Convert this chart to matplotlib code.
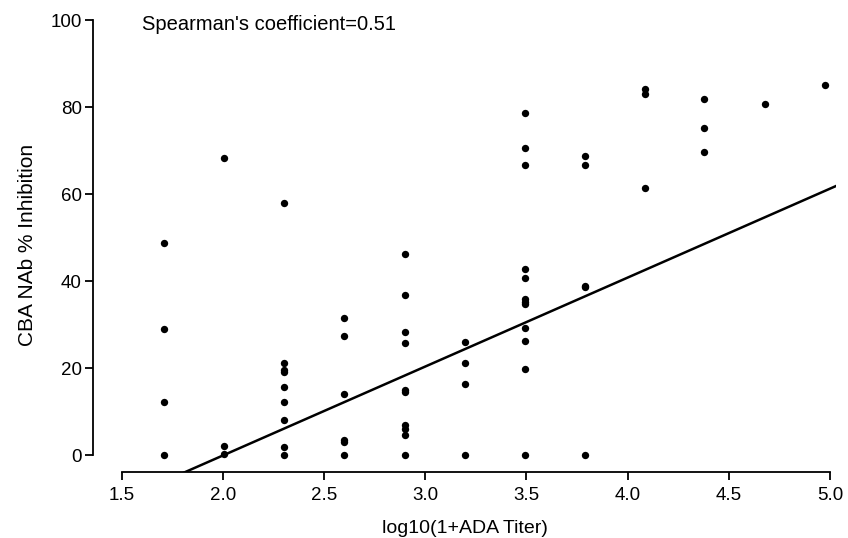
import numpy as np
import matplotlib.pyplot as plt

plt.rcParams['font.family'] = ['Liberation Sans', 'DejaVu Sans']

# log10(1+titer) levels and the % inhibition values read at each level
titer_levels = [1.708, 2.003, 2.302, 2.599, 2.898, 3.194, 3.493, 3.79, 4.085, 4.38, 4.68, 4.976]
inhibition = [
    [48.7, 28.9, 12.3, 0.0],
    [68.2, 2.1, 0.2],
    [57.9, 21.2, 19.5, 19.0, 15.7, 12.3, 8.0, 1.9, 0.0],
    [31.6, 27.4, 14.0, 3.4, 2.9, 0.0],
    [46.2, 36.7, 28.3, 25.7, 14.9, 14.6, 6.8, 6.0, 4.6, 0.0],
    [26.0, 21.1, 16.4, 0.0],
    [78.7, 70.6, 66.6, 42.8, 40.8, 35.8, 35.2, 34.8, 29.3, 26.2, 19.8, 0.0],
    [68.8, 66.8, 38.9, 38.6, 0.0],
    [84.1, 83.1, 61.5],
    [81.8, 75.3, 69.8],
    [80.8],
    [85.2],
]
fit_slope = 20.45
fit_intercept = -41.0
spearman = 0.51

x = np.concatenate([[lv] * len(v) for lv, v in zip(titer_levels, inhibition)])
y = np.concatenate(inhibition)

fig = plt.figure(figsize=(8.48, 5.38), dpi=100)
ax = fig.add_axes([93 / 848, 1 - 472 / 538, (836 - 93) / 848, (472 - 18) / 538])

ax.scatter(x, y, s=28, color='black', zorder=3, linewidths=0)
xf = np.linspace(1.5, 5.03, 50)
ax.plot(xf, fit_slope * xf + fit_intercept, color='black', lw=1.8)

ax.set_xlim(1.358, 5.03)
ax.set_ylim(-3.9, 100.5)

for s in ['top', 'right']:
    ax.spines[s].set_visible(False)
ax.spines['left'].set_bounds(0, 100)
ax.spines['bottom'].set_bounds(1.5, 5.0)
ax.spines['left'].set_linewidth(1.3)
ax.spines['bottom'].set_linewidth(1.3)

ax.set_xticks(np.arange(1.5, 5.01, 0.5))
ax.set_xticklabels(['%.1f' % t for t in np.arange(1.5, 5.01, 0.5)])
ax.set_yticks(np.arange(0, 101, 20))
ax.tick_params(direction='out', length=6, width=1.3, labelsize=13.5)
ax.tick_params(axis='x', pad=5)
ax.tick_params(axis='y', pad=2)

ax.set_xlabel('log10(1+ADA Titer)', fontsize=14, labelpad=11)
ax.set_ylabel('CBA NAb % Inhibition', fontsize=15, labelpad=10)

ax.text(1.6, 98.9, "Spearman's coefficient=%.2f" % spearman, fontsize=14.5, va='center', ha='left')

fig.savefig('out.png', dpi=100)
